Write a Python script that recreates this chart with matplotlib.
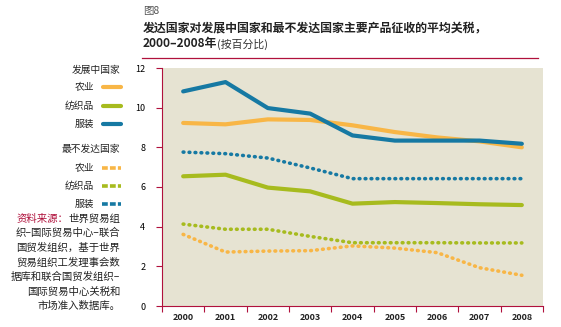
import matplotlib
matplotlib.use("Agg")
import matplotlib.pyplot as plt
from matplotlib.lines import Line2D

plt.rcParams['font.family'] = ['Noto Sans CJK SC', 'DejaVu Sans']

years = ["2000", "2001", "2002", "2003", "2004", "2005", "2006", "2007", "2008"]
dev_agri = [9.23, 9.16, 9.41, 9.38, 9.11, 8.77, 8.50, 8.30, 8.00]
dev_text = [6.54, 6.62, 5.97, 5.78, 5.16, 5.24, 5.19, 5.13, 5.09]
dev_cloth = [10.82, 11.29, 9.98, 9.70, 8.60, 8.34, 8.34, 8.34, 8.18]
ldc_agri = [3.61, 2.72, 2.77, 2.79, 3.03, 2.92, 2.69, 1.93, 1.55]
ldc_text = [4.13, 3.87, 3.87, 3.51, 3.19, 3.19, 3.19, 3.18, 3.18]
ldc_cloth = [7.76, 7.68, 7.46, 6.96, 6.42, 6.42, 6.42, 6.42, 6.42]
yticks = [0, 2, 4, 6, 8, 10, 12]

c_or = "#f8b646"
c_gr = "#a7bb1e"
c_bl = "#1679a3"
red = "#b0113c"
bg = "#e6e3d2"

W, H = 561, 327
fig = plt.figure(figsize=(W / 100, H / 100), dpi=100)

def fx(px):
    return px / W

def fy(py):
    return 1 - py / H

ax = fig.add_axes([fx(162), fy(306), fx(543) - fx(162), fy(68) - fy(306)])
ax.set_facecolor(bg)
x = list(range(len(years)))
lw = 3.0
ax.plot(x, dev_agri, color=c_or, lw=lw, solid_capstyle='round')
ax.plot(x, dev_text, color=c_gr, lw=lw, solid_capstyle='round')
ax.plot(x, dev_cloth, color=c_bl, lw=lw, solid_capstyle='round')
dot = dict(lw=2.6, linestyle=(0, (0.2, 1.45)), dash_capstyle='round')
ax.plot(x, ldc_agri, color=c_or, **dot)
ax.plot(x, ldc_text, color=c_gr, **dot)
ax.plot(x, ldc_cloth, color=c_bl, **dot)

ax.set_xlim(-0.47, 8.47)
ax.set_ylim(0, 12)
ax.set_yticks(yticks)
ax.set_yticklabels([str(v) for v in yticks], fontsize=6.5)
ax.set_xticks(x)
ax.set_xticklabels(years, fontsize=6.5, fontweight='bold')
ax.tick_params(axis='x', length=0, pad=5, colors='#222222')
ax.set_xticks([i + 0.5 for i in range(-1, 9)], minor=True)
ax.tick_params(axis='x', which='minor', length=4, color=red, width=0.8)
ax.tick_params(axis='y', length=4, color=red, width=0.8, pad=8, direction='out')
for s in ['top', 'right']:
    ax.spines[s].set_visible(False)
for s in ['left', 'bottom']:
    ax.spines[s].set_color(red)
    ax.spines[s].set_linewidth(0.8)

# title
fig.text(fx(143), fy(11), "图8", fontsize=7.5, color="#555555", va='center')
fig.text(fx(143), fy(28), "发达国家对发展中国家和最不发达国家主要产品征收的平均关税，",
         fontsize=8.6, fontweight='bold', color="#222222", va='center')
t2 = fig.text(fx(143), fy(44), "2000–2008年", fontsize=8.6, fontweight='bold',
              color="#222222", va='center')
fig.add_artist(matplotlib.text.Annotation("(按百分比)", xy=(1, 0.5), xycoords=t2,
                                          fontsize=7.8, color="#333333",
                                          va='center', ha='left'))
fig.add_artist(Line2D([fx(142), fx(538)], [fy(58), fy(58)], color=red, lw=0.9))

# legend
tx = 120
def hdr(y, s):
    fig.text(fx(tx), fy(y), s, fontsize=7, ha='right', va='center', color="#222222")

def item(y, s, c, solid):
    fig.text(fx(94), fy(y), s, fontsize=7, ha='right', va='center', color="#222222")
    if solid:
        fig.add_artist(Line2D([fx(103), fx(121)], [fy(y), fy(y)], color=c, lw=3.0,
                              solid_capstyle='round'))
    else:
        fig.add_artist(Line2D([fx(102), fx(121)], [fy(y), fy(y)], color=c, lw=2.6,
                              linestyle=(0, (1.6, 0.6)), dash_capstyle='butt'))

hdr(70, "发展中国家")
item(87, "农业", c_or, True)
item(106, "纺织品", c_gr, True)
item(124, "服装", c_bl, True)
hdr(149, "最不发达国家")
item(168, "农业", c_or, False)
item(186, "纺织品", c_gr, False)
item(204, "服装", c_bl, False)

src_lines = ["世界贸易组", "织–国际贸易中心–联合", "国贸发组织，基于世界",
             "贸易组织工发理事会数", "据库和联合国贸发组织–",
             "国际贸易中心关税和", "市场准入数据库。"]
ys = [219, 233, 248, 263, 277, 292, 306]
t0 = fig.text(fx(tx), fy(ys[0]), src_lines[0], fontsize=7.5, ha='right', va='center',
              color="#222222")
fig.add_artist(matplotlib.text.Annotation("资料来源：", xy=(0, 0.5), xycoords=t0,
                                          fontsize=7.5, color=red, ha='right', va='center'))
for y, s in zip(ys[1:], src_lines[1:]):
    fig.text(fx(tx), fy(y), s, fontsize=7.5, ha='right', va='center', color="#222222")

fig.savefig("out.png", dpi=100)
